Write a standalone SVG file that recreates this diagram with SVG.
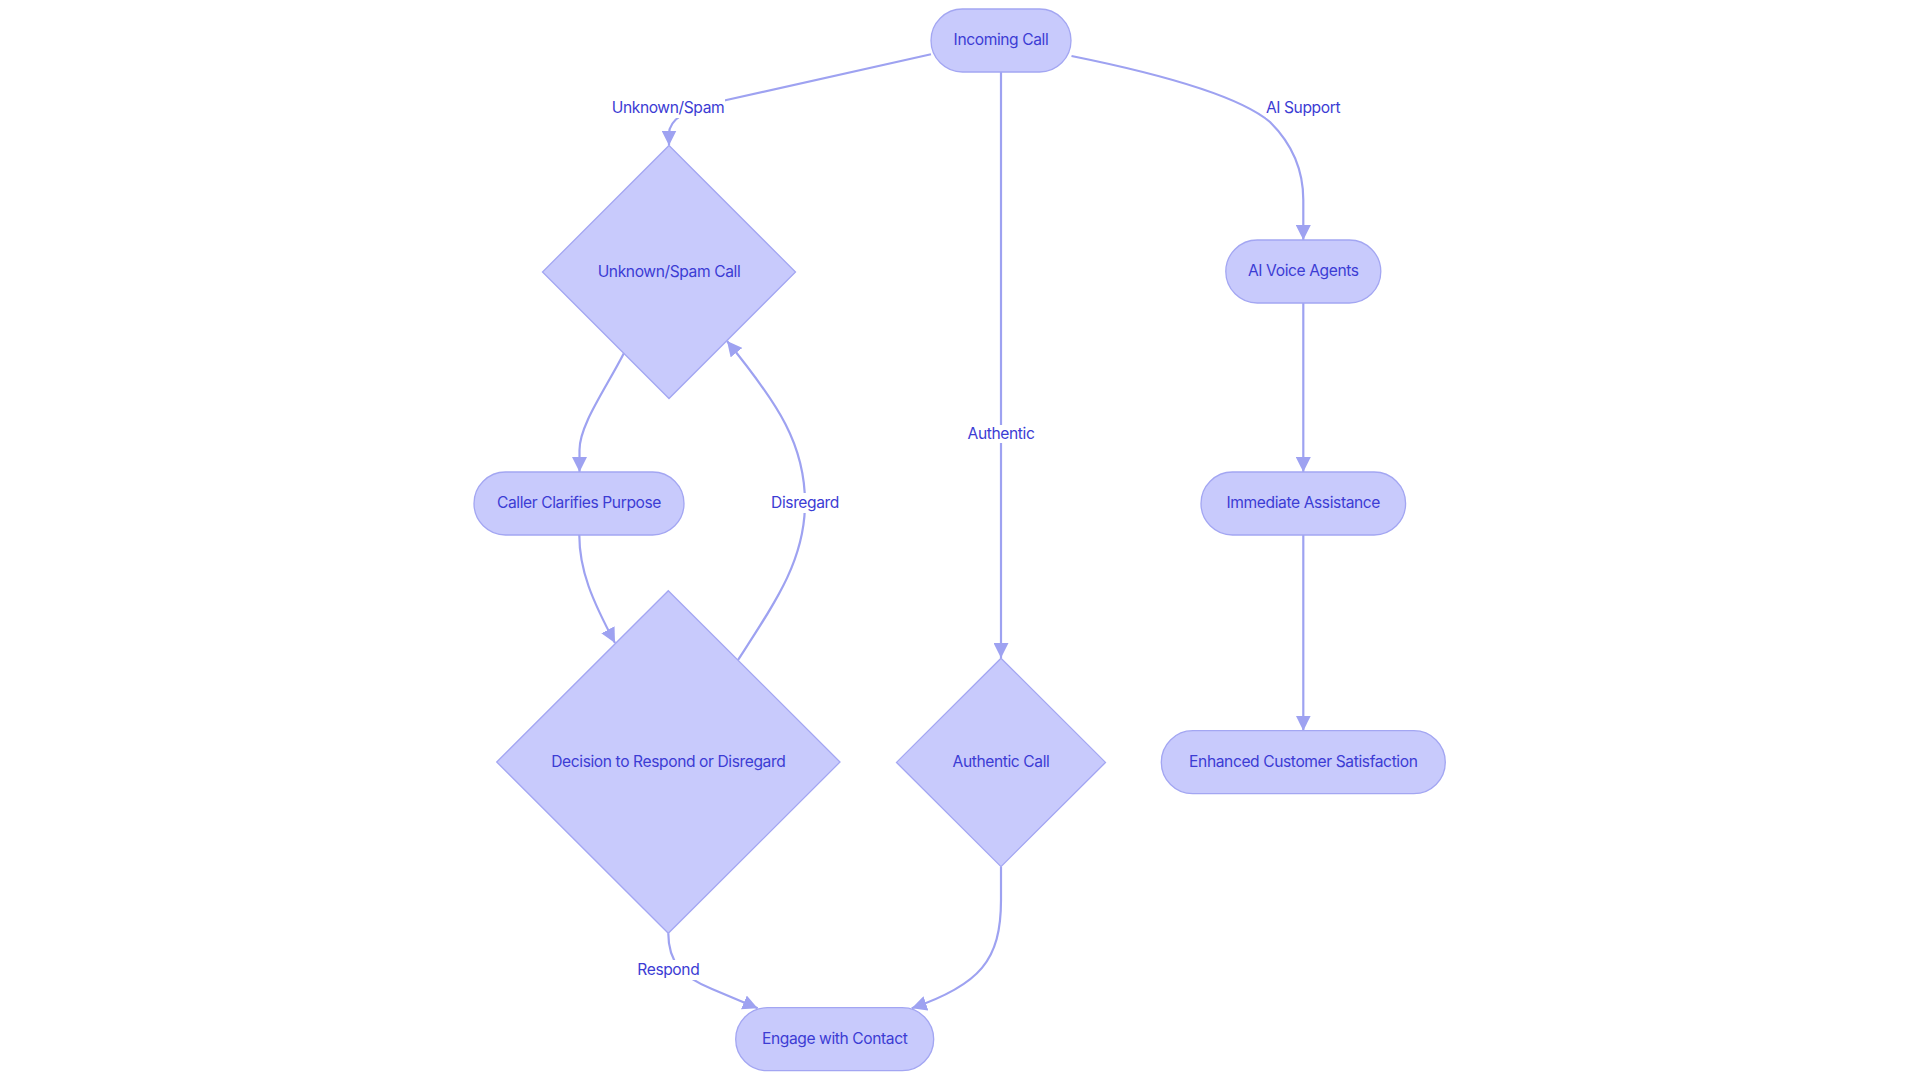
<svg xmlns="http://www.w3.org/2000/svg" width="1920" height="1083" viewBox="0 0 1920 1083">
<style>
.node{fill:#C8CAFC;stroke:#A3A6F2;stroke-width:1.3}
.edge{fill:none;stroke:#9EA2F1;stroke-width:2.2}
.t{font-family:Inter,"Noto Sans","Liberation Sans",sans-serif;font-size:15.6px;letter-spacing:-0.4px;fill:#3C3CD4;text-anchor:middle;dominant-baseline:central}
.lbg{fill:#FFFFFF}
</style>
<defs>
<marker id="arr" markerUnits="userSpaceOnUse" markerWidth="15" markerHeight="15" viewBox="0 0 14 14" refX="14" refY="7" orient="auto">
<path d="M0,0 L14,7 L0,14 z" fill="#9EA2F1"/>
</marker>
</defs>
<rect width="1920" height="1083" fill="#FFFFFF"/>
<g id="edges">
<path class="edge" d="M931,54.3 L722,101 Q669,112 669,134 L669,145.5" marker-end="url(#arr)"/>
<path class="edge" d="M1001,72 L1001,658" marker-end="url(#arr)"/>
<path class="edge" d="M1071.5,56 Q1230,88 1270,122 Q1303.3,155 1303.3,200 L1303.3,240" marker-end="url(#arr)"/>
<path class="edge" d="M624,353 C605,390 579.5,425 579.5,450 L579.5,472" marker-end="url(#arr)"/>
<path class="edge" d="M579.3,535 C579.3,570 592,600 615,643" marker-end="url(#arr)"/>
<path class="edge" d="M738,660 C775,603 805,560 805,503 C805,445 779,405 727,341" marker-end="url(#arr)"/>
<path class="edge" d="M668.3,933.3 C668.3,962 682,977 712,989 L757.7,1008.3" marker-end="url(#arr)"/>
<path class="edge" d="M1001,866.7 L1001,900 C1001,960 980,985 911.7,1008.3" marker-end="url(#arr)"/>
<path class="edge" d="M1303.3,303 L1303.3,472" marker-end="url(#arr)"/>
<path class="edge" d="M1303.3,535 L1303.3,730.7" marker-end="url(#arr)"/>
<g id="edge-labels">
<rect class="lbg" x="611" y="98" width="114" height="20"/>
<text class="t" x="668" y="107">Unknown/Spam</text>
<rect class="lbg" x="964" y="425" width="74" height="18"/>
<text class="t" x="1001" y="433">Authentic</text>
<rect class="lbg" x="1266" y="98" width="75" height="20"/>
<text class="t" x="1303" y="107">AI Support</text>
<rect class="lbg" x="770" y="493" width="70" height="20"/>
<text class="t" x="805" y="502">Disregard</text>
<rect class="lbg" x="636" y="960" width="65" height="20"/>
<text class="t" x="668.3" y="969.5">Respond</text>
</g>
</g>
<g id="n-incoming">
<rect class="node" x="931" y="9" width="140" height="63" rx="31.5"/>
<text class="t" x="1001" y="39.5">Incoming Call</text>
</g>
<g id="n-unknown">
<polygon class="node" points="669,145.5 795.5,272 669,398.5 542.5,272"/>
<text class="t" x="669" y="271">Unknown/Spam Call</text>
</g>
<g id="n-ai">
<rect class="node" x="1225.8" y="240" width="155" height="63" rx="31.5"/>
<text class="t" x="1303.3" y="270.5">AI Voice Agents</text>
</g>
<g id="n-caller">
<rect class="node" x="474" y="472" width="210" height="63" rx="31.5"/>
<text class="t" x="579" y="502.5">Caller Clarifies Purpose</text>
</g>
<g id="n-immediate">
<rect class="node" x="1201" y="472" width="204.6" height="63" rx="31.5"/>
<text class="t" x="1303.3" y="502.5">Immediate Assistance</text>
</g>
<g id="n-decision">
<polygon class="node" points="668.3,590.7 840,762 668.3,933.3 496.7,762"/>
<text class="t" x="668.3" y="761">Decision to Respond or Disregard</text>
</g>
<g id="n-authentic">
<polygon class="node" points="1001,658.2 1105.5,762.4 1001,866.6 896.5,762.4"/>
<text class="t" x="1001" y="761.4">Authentic Call</text>
</g>
<g id="n-enhanced">
<rect class="node" x="1161.3" y="730.7" width="284" height="63" rx="31.5"/>
<text class="t" x="1303.3" y="761.2">Enhanced Customer Satisfaction</text>
</g>
<g id="n-engage">
<rect class="node" x="735.7" y="1007.7" width="198" height="63" rx="31.5"/>
<text class="t" x="834.7" y="1038.2">Engage with Contact</text>
</g>
</svg>
